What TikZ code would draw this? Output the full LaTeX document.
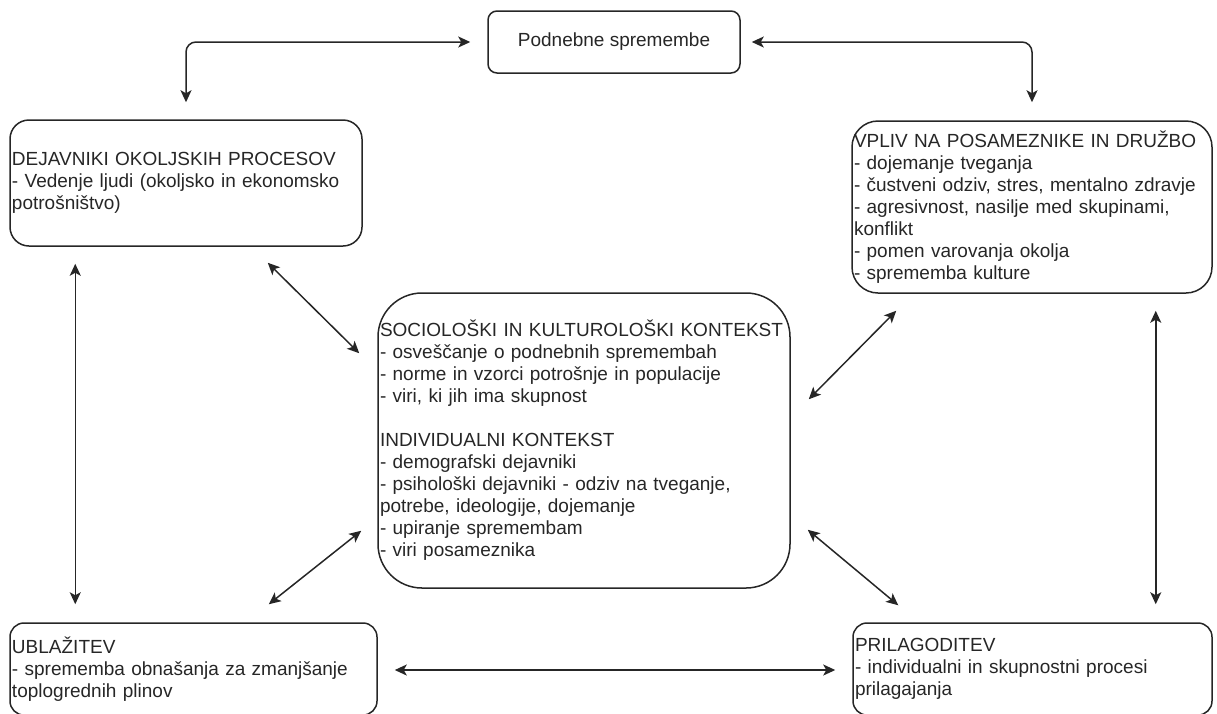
\documentclass[tikz,border=0pt]{standalone}
\usepackage{fontspec}
\setmainfont{Liberation Sans}
\usetikzlibrary{arrows.meta,calc}
\begin{document}
\begin{tikzpicture}[x=1pt,y=-1pt,
  box/.style={draw=black!85, line width=1.5pt, align=left, inner xsep=2pt, inner ysep=0pt,
    text=black!85, font=\fontsize{19pt}{22pt}\selectfont, anchor=center},
  conn/.style={draw=black!85, line width=1.5pt, {Stealth[length=12pt,width=11pt,inset=3pt]}-{Stealth[length=12pt,width=11pt,inset=3pt]}}
]
\useasboundingbox (0,0) rectangle (1217,713);

\node[box, rounded corners=9pt, align=center, minimum width=252pt, minimum height=62pt] (top) at (614,42) {Podnebne spremembe};

\node[box, rounded corners=19pt, text width=348pt, minimum height=126pt] (dej) at (186,183)
 {DEJAVNIKI OKOLJSKIH PROCESOV\\
 - Vedenje ljudi (okoljsko in ekonomsko\\
 potrošništvo)};

\node[box, rounded corners=26pt, text width=356pt, minimum height=172pt] (vpl) at (1032,207)
 {VPLIV NA POSAMEZNIKE IN DRUŽBO\\
 - dojemanje tveganja\\
 - čustveni odziv, stres, mentalno zdravje\\
 - agresivnost, nasilje med skupinami,\\
 konflikt\\
 - pomen varovanja okolja\\
 - sprememba kulture};

\node[box, rounded corners=44pt, text width=408pt, minimum height=295pt] (ctr) at (584,440.5)
 {SOCIOLOŠKI IN KULTUROLOŠKI KONTEKST\\
 - osveščanje o podnebnih spremembah\\
 - norme in vzorci potrošnje in populacije\\
 - viri, ki jih ima skupnost\\[22pt]
 INDIVIDUALNI KONTEKST\\
 - demografski dejavniki\\
 - psihološki dejavniki - odziv na tveganje,\\
 potrebe, ideologije, dojemanje\\
 - upiranje spremembam\\
 - viri posameznika};

\node[box, rounded corners=14pt, text width=363pt, minimum height=92pt] (ubl) at (193.5,669)
 {UBLAŽITEV\\
 - sprememba obnašanja za zmanjšanje\\
 toplogrednih plinov};

\node[box, rounded corners=14pt, text width=355pt, minimum height=92pt] (pri) at (1032.5,669)
 {PRILAGODITEV\\
 - individualni in skupnostni procesi\\
 prilagajanja};

% elbow connectors
\draw[conn, rounded corners=10pt, shorten <=17pt, shorten >=17pt] (top.west) -| (dej.north);
\draw[conn, rounded corners=10pt, shorten <=11pt, shorten >=18pt] (top.east) -| (vpl.north);

% diagonals
\draw[conn] ($(dej.south east)+(-95,16)$) -- ($(ctr.north west)+(-18,61)$);
\draw[conn] ($(vpl.south west)+(45,17)$) -- ($(ctr.north east)+(18,107)$);
\draw[conn] ($(ctr.south west)+(-16,-58)$) -- ($(ubl.north east)+(-109,-18)$);
\draw[conn] ($(ctr.south east)+(17,-59)$) -- ($(pri.north west)+(46,-17)$);

% verticals
\draw[conn] ($(dej.south west)+(66,17)$) -- ($(ubl.north west)+(66,-18)$);
\draw[conn] ($(vpl.south east)+(-57,17)$) -- ($(pri.north east)+(-57,-18)$);

% bottom horizontal
\draw[conn] ($(ubl.east)+(17,1)$) -- ($(pri.west)+(-17,1)$);
\end{tikzpicture}
\end{document}
